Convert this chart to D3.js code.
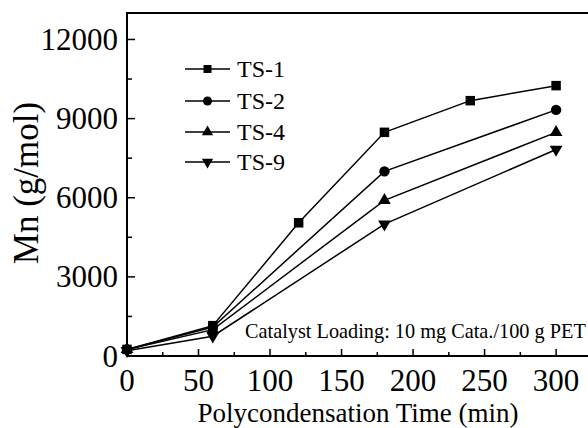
<!DOCTYPE html>
<html><head><meta charset="utf-8">
<script src="https://cdn.jsdelivr.net/npm/d3@7"></script>
<style>body{margin:0;background:#fff;overflow:hidden}svg{display:block}</style>
</head><body>
<script>
const times = [0, 60, 120, 180, 240, 300];
const seriesNames = ["TS-1", "TS-2", "TS-4", "TS-9"];
const ts1 = [250, 1150, 5050, 8480, 9680, 10250];
const ts2 = [250, 1100, null, 7000, null, 9330];
const ts4 = [250, 1000, null, 5900, null, 8480];
const ts9 = [200, 750, null, 5000, null, 7830];
const xTicks = [0, 50, 100, 150, 200, 250, 300];
const yTicks = [0, 3000, 6000, 9000, 12000];
const xMinor = [25, 75, 125, 175, 225, 275];
const yMinor = [1500, 4500, 7500, 10500];
const symbols = [d3.symbolSquare, d3.symbolCircle, d3.symbolTriangle, "down"];

const W = 588, H = 428;
const font = "'Liberation Serif','Times New Roman',serif";
const svg = d3.select("body").append("svg").attr("width", W).attr("height", H);

const x = d3.scaleLinear().domain([0, 330]).range([127, 599]);
const y = d3.scaleLinear().domain([0, 13000]).range([356, 13.1]);

// frame
svg.append("path").attr("d", `M${x(0)},${y(0)}V${y(13000)}H${x(330)}`)
  .attr("fill", "none").attr("stroke", "#000").attr("stroke-width", 2);
svg.append("line").attr("x1", x(0)).attr("x2", x(330)).attr("y1", y(0)).attr("y2", y(0))
  .attr("stroke", "#000").attr("stroke-width", 2);

// ticks
const tg = svg.append("g").attr("stroke", "#000").attr("stroke-width", 1.5);
xTicks.forEach(t => tg.append("line").attr("x1", x(t)).attr("x2", x(t)).attr("y1", y(0)).attr("y2", y(0) - 7));
xMinor.forEach(t => tg.append("line").attr("x1", x(t)).attr("x2", x(t)).attr("y1", y(0)).attr("y2", y(0) - 4));
yTicks.forEach(t => tg.append("line").attr("x1", x(0)).attr("x2", x(0) + 8).attr("y1", y(t)).attr("y2", y(t)));
yMinor.forEach(t => tg.append("line").attr("x1", x(0)).attr("x2", x(0) + 5).attr("y1", y(t)).attr("y2", y(t)));

// tick labels
svg.append("g").selectAll("text").data(xTicks).join("text")
  .attr("x", d => x(d)).attr("y", 380).attr("text-anchor", "middle").attr("dominant-baseline", "central")
  .attr("font-family", font).attr("font-size", 31).text(d => d);
svg.append("g").selectAll("text").data(yTicks).join("text")
  .attr("x", 118).attr("y", d => y(d)).attr("text-anchor", "end").attr("dominant-baseline", "central")
  .attr("font-family", font).attr("font-size", 31).text(d => d);

// axis titles
svg.append("text").attr("x", 358).attr("y", 422).attr("text-anchor", "middle")
  .attr("font-family", font).attr("font-size", 27).text("Polycondensation Time (min)");
svg.append("text").attr("transform", "translate(38,183) rotate(-90)").attr("text-anchor", "middle")
  .attr("font-family", font).attr("font-size", 35).text("Mn (g/mol)");

// annotation
svg.append("text").attr("x", 245).attr("y", 338)
  .attr("font-family", font).attr("font-size", 20.3).text("Catalyst Loading: 10 mg Cata./100 g PET");

function symPath(s, size) {
  if (s === "down") return d3.symbol(d3.symbolTriangle, size)();
  return d3.symbol(s, size)();
}
function symTransform(s, px, py) {
  return s === "down" ? `translate(${px},${py}) rotate(180)` : `translate(${px},${py})`;
}

const allSeries = [ts1, ts2, ts4, ts9];
const line = d3.line().defined(d => d.v != null).x(d => x(d.t)).y(d => y(d.v));
allSeries.forEach((vals, i) => {
  const pts = times.map((t, j) => ({t, v: vals[j]})).filter(d => d.v != null);
  svg.append("path").attr("d", line(pts)).attr("fill", "none").attr("stroke", "#000").attr("stroke-width", 1.5);
  const s = symbols[i];
  const size = s === d3.symbolSquare ? 90 : (s === d3.symbolCircle ? 85 : 70);
  svg.append("g").selectAll("path").data(pts).join("path")
    .attr("d", symPath(s, size))
    .attr("transform", d => symTransform(s, x(d.t), y(d.v)))
    .attr("fill", "#000");
});

// legend
const legY = [69, 101, 132, 162];
seriesNames.forEach((n, i) => {
  const g = svg.append("g");
  g.append("line").attr("x1", 185).attr("x2", 230).attr("y1", legY[i]).attr("y2", legY[i])
    .attr("stroke", "#000").attr("stroke-width", 1.5);
  const s = symbols[i];
  const size = s === d3.symbolSquare ? 64 : (s === d3.symbolCircle ? 64 : 55);
  g.append("path").attr("d", symPath(s, size)).attr("transform", symTransform(s, 207.5, legY[i])).attr("fill", "#000");
  g.append("text").attr("x", 237).attr("y", legY[i]).attr("dominant-baseline", "central")
    .attr("font-family", font).attr("font-size", 24).text(n);
});
</script>
</body></html>
